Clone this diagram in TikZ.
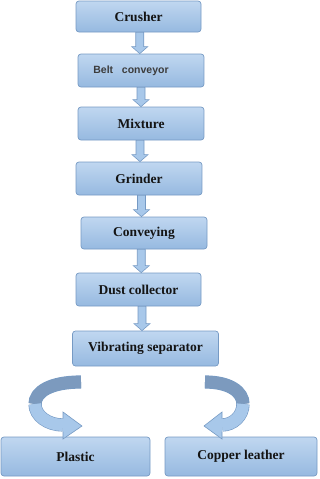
\documentclass[tikz,border=0pt]{standalone}
\usepackage{fontspec}
\setmainfont{Liberation Serif}[BoldFont={Liberation Serif Bold}]
\newfontfamily\timesfont{Liberation Serif}
\newfontfamily\arialfont{Liberation Sans}
\usepackage{tikz}
\usetikzlibrary{calc}
\usepackage{xcolor}
\definecolor{boxtop}{RGB}{192,215,240}
\definecolor{boxbottom}{RGB}{150,185,224}
\definecolor{boxline}{RGB}{118,154,196}
\definecolor{ribbondark}{RGB}{124,154,190}
\definecolor{ribbonlight}{RGB}{168,200,234}
\definecolor{labeltext}{RGB}{20,20,20}

% block arrow from the bottom of one box to the top of the next
\newcommand\blockdown[2]{%
  \path let \p1=($(#1.south)!.5!(#2.north)$), \p2=(#1.south), \p3=(#2.north) in
    [fill=ribbonlight, draw=boxline, line width=0.6pt]
    (\x1-4pt,\y2) -- (\x1+4pt,\y2) -- (\x1+4pt,\y3+7pt) -- (\x1+8pt,\y3+7pt)
    -- (\x1,\y3) -- (\x1-8pt,\y3+7pt) -- (\x1-4pt,\y3+7pt) -- cycle;}

\begin{document}
\begin{tikzpicture}[
    x=1pt, y=-1pt,
    box/.style={draw=boxline, line width=0.7pt, rounded corners=3pt, top color=boxtop, bottom color=boxbottom,
      minimum width=126pt, minimum height=33pt, inner sep=0pt, align=center,
      text=labeltext, font=\timesfont\fontsize{13.5}{15}\selectfont\bfseries},
    ribbon/.style={draw=boxline, line width=0.6pt, double distance=12pt}
  ]
    \useasboundingbox (0,0) rectangle (319,479);
    \node[box, minimum width=125pt, minimum height=31pt] (crusher) at (138.5,16.5) {Crusher};
    \node[box, font=\arialfont\fontsize{10.5}{12}\selectfont\bfseries, text={rgb,255:red,60;green,60;blue,60}] (belt) at (141,70.5) {Belt\ \ \ conveyor\hspace{20pt}};
    \node[box] (mixture) at (141,123.5) {Mixture};
    \node[box] (grinder) at (139,178.5) {Grinder};
    \node[box, minimum height=32pt] (conveying) at (144,233) {Conveying};
    \node[box, minimum width=125pt] (dust) at (138.5,289.5) {Dust collector};
    \node[box, minimum width=146pt, minimum height=35pt] (separator) at (145.5,348.5) {Vibrating separator};
    \node[box, minimum width=149pt, minimum height=39pt] (plastic) at (75.5,456.5) {Plastic};
    \node[box, minimum width=152pt, minimum height=39pt] (copper) at (241,456.5) {Copper leather};

    \blockdown{crusher}{belt}
    \blockdown{belt}{mixture}
    \blockdown{mixture}{grinder}
    \blockdown{grinder}{conveying}
    \blockdown{conveying}{dust}
    \blockdown{dust}{separator}

    % curved arrows to the two outputs
    \coordinate (lstart) at (81,382);
    \coordinate (lturn) at (35,404);
    \coordinate (lend) at (63,425);
    \coordinate (ltip) at (82,426);
    \draw[ribbon, double=ribbondark] (lstart) .. controls (50,382) and (35,392) .. (lturn);
    \draw[ribbon, double=ribbonlight] (lturn) .. controls (35,416) and (48,425) .. (lend);
    \path[fill=ribbonlight, draw=boxline, line width=0.6pt]
      (63,418.5) -- (63,412) -- (ltip) -- (63,439) -- (63,431.5);

    \coordinate (rstart) at (205,382);
    \coordinate (rturn) at (243,404);
    \coordinate (rend) at (222,425);
    \coordinate (rtip) at (204,426);
    \draw[ribbon, double=ribbondark] (rstart) .. controls (230,382) and (243,392) .. (rturn);
    \draw[ribbon, double=ribbonlight] (rturn) .. controls (243,416) and (233,425) .. (rend);
    \path[fill=ribbonlight, draw=boxline, line width=0.6pt]
      (222,418.5) -- (222,412) -- (rtip) -- (222,439) -- (222,431.5);
\end{tikzpicture}
\end{document}
